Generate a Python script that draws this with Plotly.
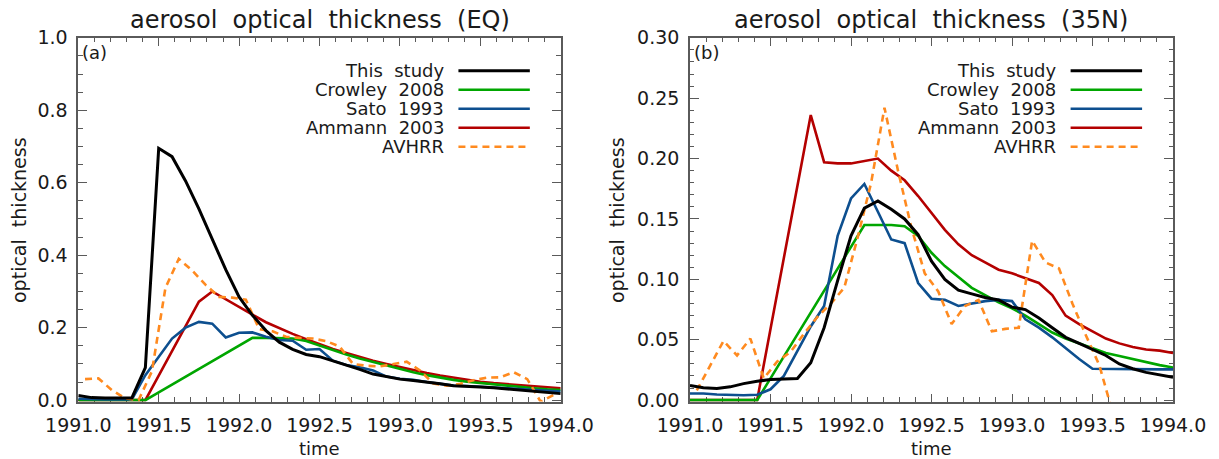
import plotly.graph_objects as go

# ---------------- data ----------------
t_month = [1991.000, 1991.083, 1991.167, 1991.250, 1991.333, 1991.417, 1991.500, 1991.583,
           1991.667, 1991.750, 1991.833, 1991.917, 1992.000, 1992.083, 1992.167, 1992.250,
           1992.333, 1992.417, 1992.500, 1992.583, 1992.667, 1992.750, 1992.833, 1992.917,
           1993.000, 1993.083, 1993.167, 1993.250, 1993.333, 1993.417, 1993.500, 1993.583,
           1993.667, 1993.750, 1993.833, 1993.917, 1994.000]
t_mid = [1991.042, 1991.125, 1991.208, 1991.292, 1991.375, 1991.458, 1991.542, 1991.625,
         1991.708, 1991.792, 1991.875, 1991.958, 1992.042, 1992.125, 1992.208, 1992.292,
         1992.375, 1992.458, 1992.542, 1992.625, 1992.708, 1992.792, 1992.875, 1992.958,
         1993.042, 1993.125, 1993.208, 1993.292, 1993.375, 1993.458, 1993.542, 1993.625,
         1993.708, 1993.792, 1993.875, 1993.958]

# (a) equator
eq_this = [0.013, 0.007, 0.006, 0.006, 0.006, 0.090, 0.695, 0.672, 0.605, 0.528, 0.445, 0.360,
           0.285, 0.234, 0.192, 0.160, 0.140, 0.126, 0.120, 0.109, 0.097, 0.085, 0.072, 0.064,
           0.058, 0.054, 0.050, 0.045, 0.040, 0.037, 0.036, 0.034, 0.031, 0.028, 0.024, 0.021, 0.018]
eq_crowley = [0.0, 0.0, 0.0, 0.0, 0.0, 0.0, 0.0215, 0.043, 0.0645, 0.086, 0.1075, 0.129,
              0.150, 0.172, 0.172, 0.172, 0.170, 0.163, 0.150, 0.138, 0.126, 0.115, 0.105, 0.095,
              0.086, 0.077, 0.069, 0.062, 0.056, 0.051, 0.047, 0.043, 0.040, 0.036, 0.033, 0.030, 0.028]
eq_sato = [0.004, 0.002, 0.002, 0.002, 0.002, 0.069, 0.120, 0.170, 0.200, 0.216, 0.211, 0.173,
           0.186, 0.187, 0.175, 0.166, 0.164, 0.139, 0.141, 0.109, 0.097, 0.091, 0.082, 0.065,
           0.059, 0.056, 0.050, 0.045, 0.040, 0.039, 0.036, 0.035, 0.033, 0.031, 0.028, 0.026, 0.024]
eq_ammann = [0.0, 0.0, 0.0, 0.0, 0.0, 0.0, 0.068, 0.136, 0.204, 0.272, 0.300, 0.278,
             0.256, 0.236, 0.215, 0.198, 0.183, 0.168, 0.154, 0.141, 0.130, 0.119, 0.109, 0.100,
             0.091, 0.082, 0.075, 0.068, 0.062, 0.056, 0.051, 0.047, 0.044, 0.041, 0.038, 0.035, 0.033]
eq_avhrr = [0.058, 0.060, 0.028, 0.005, 0.000, 0.080, 0.310, 0.390, 0.358, 0.318, 0.285, 0.283,
            0.277, 0.196, 0.190, 0.175, 0.172, 0.170, 0.163, 0.148, 0.100, 0.095, 0.093, 0.100,
            0.106, 0.082, 0.046, 0.040, 0.045, 0.055, 0.062, 0.063, 0.077, 0.058, -0.004, 0.015]

# (b) 35N
n35_this = [0.0122, 0.0102, 0.0096, 0.0110, 0.0137, 0.0157, 0.0170, 0.0175, 0.0180, 0.031, 0.060,
            0.099, 0.136, 0.159, 0.165, 0.158, 0.150, 0.137, 0.115, 0.100, 0.091, 0.088, 0.085,
            0.083, 0.077, 0.075, 0.068, 0.060, 0.052, 0.047, 0.042, 0.037, 0.030, 0.026, 0.023,
            0.021, 0.019]
n35_crowley = [0.0, 0.0, 0.0, 0.0, 0.0, 0.0, 0.018, 0.036, 0.054, 0.0725, 0.091, 0.109,
               0.127, 0.145, 0.145, 0.145, 0.144, 0.136, 0.122, 0.111, 0.102, 0.093, 0.087, 0.081,
               0.076, 0.070, 0.063, 0.056, 0.051, 0.047, 0.043, 0.039, 0.0365, 0.034, 0.031, 0.029, 0.027]
n35_sato = [0.0055, 0.0055, 0.0047, 0.0045, 0.0040, 0.0045, 0.009, 0.020, 0.041, 0.061, 0.078,
            0.136, 0.167, 0.179, 0.156, 0.133, 0.130, 0.097, 0.084, 0.083, 0.078, 0.080, 0.082,
            0.083, 0.082, 0.067, 0.060, 0.052, 0.043, 0.034, 0.026, 0.0258, 0.0256, 0.0255,
            0.0255, 0.0255, 0.0255]
n35_ammann = [0.0, 0.0, 0.0, 0.0, 0.0, 0.0, 0.059, 0.118, 0.177, 0.236, 0.197, 0.196,
              0.196, 0.198, 0.200, 0.190, 0.182, 0.169, 0.155, 0.141, 0.129, 0.120, 0.114, 0.108,
              0.105, 0.101, 0.097, 0.087, 0.070, 0.063, 0.057, 0.051, 0.047, 0.044, 0.042, 0.041, 0.039]
n35_avhrr = [0.008, 0.028, 0.049, 0.037, 0.051, 0.018, 0.032, 0.040, 0.055, 0.069, 0.080, 0.093,
             0.135, 0.180, 0.242, 0.190, 0.143, 0.105, 0.090, 0.063, 0.078, 0.083, 0.057, 0.059,
             0.060, 0.132, 0.114, 0.109, 0.080, 0.054, 0.029, -0.010]

series_names = ["This\u00a0 study", "Crowley\u00a0 2008", "Sato\u00a0 1993", "Ammann\u00a0 2003", "AVHRR"]
series_colors = ["#000000", "#00a600", "#0d4f8f", "#b40000", "#ff8a1f"]
series_widths = [3.0, 2.6, 2.6, 2.6, 2.6]
series_dash = ["solid", "solid", "solid", "solid", "7px,5px"]

panel_titles = ["aerosol\u00a0 optical\u00a0 thickness\u00a0 (EQ)",
                "aerosol\u00a0 optical\u00a0 thickness\u00a0 (35N)"]
panel_tags = ["(a)", "(b)"]
x_tick_labels = ["1991.0", "1991.5", "1992.0", "1992.5", "1993.0", "1993.5", "1994.0"]
x_title = "time"
y_title = "optical\u00a0 thickness"

FONT = "DejaVu Sans"
AX = "#5a5a5a"
TXT = "#1a1a1a"
W, H = 1219, 459

fig = go.Figure()

panels = [
    dict(xa="x", ya="y", data=[eq_this, eq_crowley, eq_sato, eq_ammann, eq_avhrr]),
    dict(xa="x2", ya="y2", data=[n35_this, n35_crowley, n35_sato, n35_ammann, n35_avhrr]),
]
draw_order = [3, 1, 2, 4, 0]
for p in panels:
    for i in draw_order:
        ys = p["data"][i]
        xs = t_mid[:len(ys)] if i == 4 else t_month[:len(ys)]
        fig.add_trace(go.Scatter(
            x=xs, y=ys, mode="lines", name=series_names[i], showlegend=False,
            line=dict(color=series_colors[i], width=series_widths[i], dash=series_dash[i]),
            xaxis=p["xa"], yaxis=p["ya"], hoverinfo="skip"))

xdom = [[78.3 / W, 560.7 / W], [690 / W, 1173 / W]]
ydom = [1 - 401.6 / H, 1 - 37.8 / H]

def xaxis(dom, anchor):
    return dict(domain=dom, anchor=anchor, range=[1991, 1994],
                tickvals=[float(v) for v in x_tick_labels], ticktext=x_tick_labels,
                ticks="inside", ticklen=8, tickwidth=1.3, tickcolor=AX,
                showline=True, linecolor=AX, linewidth=1.6, mirror="ticks",
                showgrid=False, zeroline=False, layer="below traces", automargin=False,
                minor=dict(dtick=0.1, tick0=1991, ticks="inside", ticklen=4.5,
                           tickwidth=1.3, tickcolor=AX, showgrid=False),
                tickfont=dict(family=FONT, size=19, color=TXT), ticklabelstandoff=6)

def yaxis(dom, anchor, rng, dtick, mdtick, fmt):
    return dict(domain=dom, anchor=anchor, range=rng, dtick=dtick, tick0=0, tickformat=fmt,
                ticks="inside", ticklen=9, tickwidth=1.3, tickcolor=AX,
                showline=True, linecolor=AX, linewidth=1.6, mirror="ticks",
                showgrid=False, zeroline=False, layer="below traces", automargin=False,
                minor=dict(dtick=mdtick, tick0=0, ticks="inside", ticklen=4.5,
                           tickwidth=1.3, tickcolor=AX, showgrid=False),
                tickfont=dict(family=FONT, size=19, color=TXT), ticklabelstandoff=5)

fig.update_layout(
    width=W, height=H, autosize=False, margin=dict(l=0, r=0, t=0, b=0, pad=0),
    paper_bgcolor="white", plot_bgcolor="white", showlegend=False,
    xaxis=xaxis(xdom[0], "y"), yaxis=yaxis(ydom, "x", [-0.004, 1.0], 0.2, 0.05, ".1f"),
    xaxis2=xaxis(xdom[1], "y2"), yaxis2=yaxis(ydom, "x2", [-0.0012, 0.30], 0.05, 0.01, ".2f"),
)

ann = []
shapes = []
for j, (xd, xr, yr) in enumerate([(xdom[0], "x", "y"), (xdom[1], "x2", "y2")]):
    cx = (xd[0] + xd[1]) / 2
    ann.append(dict(text=panel_titles[j], xref="paper", yref="paper", x=cx, y=1 - 20 / H,
                    xanchor="center", yanchor="middle", showarrow=False,
                    font=dict(family=FONT, size=24, color=TXT)))
    ann.append(dict(text=x_title, xref="paper", yref="paper", x=cx, y=1 - 448 / H,
                    xanchor="center", yanchor="middle", showarrow=False,
                    font=dict(family=FONT, size=18, color=TXT)))
    ytx = [19 / W, 617 / W][j]
    ann.append(dict(text=y_title, xref="paper", yref="paper", x=ytx,
                    y=1 - 220 / H, xanchor="center", yanchor="middle", textangle=-90,
                    showarrow=False, font=dict(family=FONT, size=19, color=TXT)))
    ann.append(dict(text=panel_tags[j], xref=xr + " domain", yref=yr + " domain", x=0.004,
                    y=0.96, xanchor="left", yanchor="middle", showarrow=False,
                    font=dict(family=FONT, size=18, color=TXT)))
    for i, nm in enumerate(series_names):
        yy = (401.6 - (70.7 + 19 * i)) / 363.8
        ann.append(dict(text=nm, xref=xr + " domain", yref=yr + " domain", x=0.762, y=yy,
                        xanchor="right", yanchor="middle", showarrow=False,
                        font=dict(family=FONT, size=18, color=TXT)))
        shapes.append(dict(type="line", xref=xr + " domain", yref=yr + " domain",
                           x0=0.788, x1=0.936, y0=yy, y1=yy,
                           line=dict(color=series_colors[i], width=series_widths[i],
                                     dash=series_dash[i])))

fig.update_layout(annotations=ann, shapes=shapes)
fig.write_html(
    "out.html",
    config={"displayModeBar": False, "responsive": False},
    post_script="document.documentElement.style.margin='0';document.body.style.margin='0';"
                "document.body.style.padding='0';document.body.style.overflow='hidden';",
)
